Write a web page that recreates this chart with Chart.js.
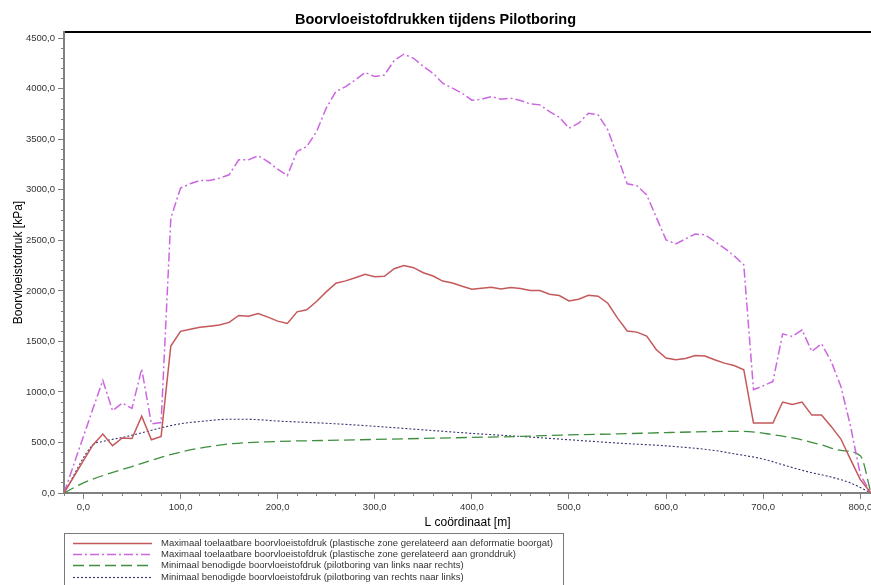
<!DOCTYPE html>
<html>
<head>
<meta charset="utf-8">
<title>Boorvloeistofdrukken tijdens Pilotboring</title>
<script src="https://cdn.jsdelivr.net/npm/chart.js@4.4.1/dist/chart.umd.min.js"></script>
<style>
  html, body { margin: 0; padding: 0; background: #fff; }
  #wrap { width: 871px; height: 585px; position: relative; }
</style>
</head>
<body>
<div id="wrap"><canvas id="drukChart"></canvas></div>
<script>
// L coordinaat [m] voor de maximaal toelaatbare drukken
const lengteMax = [-20, -10, 0, 10, 20, 30, 40, 50, 60, 70, 80,
    90, 100, 110, 120, 130, 140, 150, 160, 170, 180,
    190, 200, 210, 220, 230, 240, 250, 260, 270, 280,
    290, 300, 310, 320, 330, 340, 350, 360, 370, 380,
    390, 400, 410, 420, 430, 440, 450, 460, 470, 480,
    490, 500, 510, 520, 530, 540, 550, 560, 570, 580,
    590, 600, 610, 620, 630, 640, 650, 660, 670, 680,
    690, 700, 710, 720, 730, 740, 750, 760, 770, 780,
    790, 800, 811];

// Maximaal toelaatbaar (deformatie boorgat) [kPa]
const maxDeformatie = [0, 160, 320, 478, 583, 468, 544, 540, 761, 527, 560,
    1455, 1600, 1620, 1640, 1650, 1662, 1688, 1757, 1750, 1776,
    1740, 1701, 1678, 1793, 1813, 1895, 1990, 2076, 2099, 2130,
    2165, 2140, 2145, 2220, 2250, 2230, 2180, 2147, 2097, 2078,
    2046, 2017, 2027, 2037, 2020, 2033, 2023, 2003, 2003, 1967,
    1954, 1901, 1918, 1957, 1947, 1878, 1730, 1603, 1592, 1552,
    1417, 1335, 1318, 1332, 1360, 1355, 1318, 1285, 1262, 1220,
    692, 692, 692, 900, 877, 900, 771, 771, 659, 534,
    330, 132, 0];

// Maximaal toelaatbaar (gronddruk) [kPa]
const maxGronddruk = [0, 280, 560, 840, 1114, 814, 890, 837, 1229, 685, 698,
    2720, 3017, 3060, 3093, 3093, 3116, 3149, 3297, 3297, 3337,
    3280, 3204, 3141, 3380, 3429, 3575, 3808, 3973, 4022, 4088,
    4161, 4121, 4137, 4280, 4342, 4302, 4220, 4154, 4055, 4006,
    3956, 3887, 3897, 3923, 3897, 3907, 3884, 3851, 3841, 3775,
    3719, 3610, 3659, 3758, 3742, 3594, 3330, 3060, 3040, 2950,
    2726, 2505, 2465, 2515, 2562, 2555, 2490, 2424, 2348, 2258,
    1022, 1061, 1104, 1575, 1549, 1615, 1400, 1477, 1302, 1054,
    659, 181, 0];

// Minimaal benodigd, links naar rechts
const lengteLR = [-20, 0, 50, 100, 150, 200, 250, 300, 350, 400, 450, 500, 550, 600, 650, 680, 710, 740, 760, 780, 800, 811];
const minLinksRechts = [0, 100, 262, 405, 485, 510, 520, 530, 540, 550, 560, 575, 585, 598, 608, 610, 577, 526, 476, 421, 369, 0];

// Minimaal benodigd, rechts naar links
const lengteRL = [-20, 10, 20, 40, 60, 80, 100, 125, 150, 175, 200, 250, 300, 350, 400, 450, 500, 550, 600, 650, 670, 700, 720, 745, 770, 790, 811];
const minRechtsLinks = [0, 478, 510, 550, 595, 645, 685, 712, 730, 728, 712, 690, 660, 625, 590, 560, 527, 494, 466, 421, 388, 336, 280, 212, 158, 99, 0];

// as-labels
const xTicks = [0, 100, 200, 300, 400, 500, 600, 700, 800];
const yTicks = [0, 500, 1000, 1500, 2000, 2500, 3000, 3500, 4000, 4500];

const labels = [
    'Maximaal toelaatbare boorvloeistofdruk (plastische zone gerelateerd aan deformatie boorgat)',
    'Maximaal toelaatbare boorvloeistofdruk (plastische zone gerelateerd aan gronddruk)',
    'Minimaal benodigde boorvloeistofdruk (pilotboring van links naar rechts)',
    'Minimaal benodigde boorvloeistofdruk (pilotboring van rechts naar links)'
];

const xMin = -20, xMax = 811, yMin = 0, yMax = 4562;
const fontFam = '"Liberation Sans", Arial, sans-serif';

function punten(xs, ys) {
    return xs.map((x, i) => ({ x: x, y: ys[i] }));
}

function komma(v) {
    return v.toFixed(1).replace('.', ',');
}

// legenda met kader onder de grafiek
const legendaKader = {
    id: 'legendaKader',
    afterDraw(chart) {
        const ctx = chart.ctx;
        const left = chart.chartArea.left;
        const top = chart.scales.x.bottom;
        ctx.save();
        ctx.strokeStyle = '#7a7a7a';
        ctx.lineWidth = 1;
        ctx.strokeRect(left + 0.5, top + 0.5, 499, 70);
        ctx.font = '9.5px ' + fontFam;
        ctx.textBaseline = 'middle';
        chart.data.datasets.forEach((ds, i) => {
            const y = Math.round(top + 10 + i * 11.2) + 0.5;
            ctx.strokeStyle = ds.borderColor;
            ctx.lineWidth = ds.borderWidth;
            ctx.setLineDash(ds.borderDash || []);
            ctx.beginPath();
            ctx.moveTo(left + 9, y);
            ctx.lineTo(left + 88, y);
            ctx.stroke();
            ctx.setLineDash([]);
            ctx.fillStyle = '#333';
            ctx.fillText(ds.label, left + 97, y);
        });
        ctx.restore();
    }
};

Chart.defaults.font.family = fontFam;

const ctx = document.getElementById('drukChart').getContext('2d');
new Chart(ctx, {
    type: 'line',
    data: {
        datasets: [{
            label: labels[0],
            data: punten(lengteMax, maxDeformatie),
            borderColor: '#c4585a',
            borderWidth: 1.5,
            pointRadius: 0,
            tension: 0
        }, {
            label: labels[1],
            data: punten(lengteMax, maxGronddruk),
            borderColor: '#cc66e0',
            borderWidth: 1.5,
            borderDash: [9, 3, 2, 3],
            pointRadius: 0,
            tension: 0
        }, {
            label: labels[2],
            data: punten(lengteLR, minLinksRechts),
            borderColor: '#3f8f3f',
            borderWidth: 1.3,
            borderDash: [11, 5],
            pointRadius: 0,
            cubicInterpolationMode: 'monotone'
        }, {
            label: labels[3],
            data: punten(lengteRL, minRechtsLinks),
            borderColor: '#34346e',
            borderWidth: 1.1,
            borderDash: [2, 2],
            pointRadius: 0,
            cubicInterpolationMode: 'monotone'
        }]
    },
    options: {
        responsive: true,
        maintainAspectRatio: false,
        animation: false,
        layout: { padding: { left: 0, right: 0, top: 0, bottom: 52 } },
        plugins: {
            legend: { display: false },
            tooltip: { enabled: false },
            title: {
                display: true,
                text: 'Boorvloeistofdrukken tijdens Pilotboring',
                color: '#000',
                font: { size: 14.5, weight: 'bold' },
                padding: { top: 11, bottom: 3.6 }
            }
        },
        scales: {
            x: {
                type: 'linear',
                position: 'bottom',
                weight: 1,
                min: xMin,
                max: xMax,
                title: {
                    display: true,
                    text: 'L coördinaat [m]',
                    color: '#000',
                    font: { size: 12 },
                    padding: { top: 0, bottom: 3 }
                },
                ticks: {
                    autoSkip: false,
                    maxRotation: 0,
                    color: '#333',
                    font: { size: 9.5 },
                    padding: 3,
                    callback: v => komma(v)
                },
                afterBuildTicks: s => { s.ticks = xTicks.map(v => ({ value: v })); },
                grid: { drawOnChartArea: false, tickLength: 6, color: '#808080' },
                border: { color: '#808080', width: 2 },
                afterFit: s => { s.height = 40; s.paddingLeft = 0; s.paddingRight = 0; }
            },
            xMinor: {
                type: 'linear',
                position: 'bottom',
                weight: 0,
                min: xMin,
                max: xMax,
                ticks: { display: false, stepSize: 20, includeBounds: false },
                afterBuildTicks: s => { s.ticks = s.ticks.filter(t => t.value % 20 === 0); },
                grid: { drawOnChartArea: false, tickLength: 3, color: '#808080' },
                border: { display: false },
                afterFit: s => { s.height = 0; }
            },
            xTop: {
                type: 'linear',
                position: 'top',
                min: xMin,
                max: xMax,
                ticks: { display: false },
                grid: { display: false, drawTicks: false },
                border: { color: '#000', width: 2 },
                afterFit: s => { s.height = 0; }
            },
            y: {
                type: 'linear',
                position: 'left',
                weight: 1,
                min: yMin,
                max: yMax,
                title: {
                    display: true,
                    text: 'Boorvloeistofdruk [kPa]',
                    color: '#000',
                    font: { size: 12 },
                    padding: { top: 11, bottom: 0 }
                },
                ticks: {
                    autoSkip: false,
                    color: '#333',
                    font: { size: 9.5 },
                    padding: 3,
                    callback: v => komma(v)
                },
                afterBuildTicks: s => { s.ticks = yTicks.map(v => ({ value: v })); },
                grid: { drawOnChartArea: false, tickLength: 6, color: '#808080' },
                border: { color: '#808080', width: 2 },
                afterFit: s => { s.width = 64; s.paddingTop = 0; s.paddingBottom = 0; }
            },
            yMinor: {
                type: 'linear',
                position: 'left',
                weight: 0,
                min: yMin,
                max: yMax,
                ticks: { display: false, stepSize: 100, includeBounds: false },
                afterBuildTicks: s => { s.ticks = s.ticks.filter(t => t.value % 100 === 0); },
                grid: { drawOnChartArea: false, tickLength: 3, color: '#808080' },
                border: { display: false },
                afterFit: s => { s.width = 0; }
            }
        }
    },
    plugins: [legendaKader]
});
</script>
</body>
</html>
